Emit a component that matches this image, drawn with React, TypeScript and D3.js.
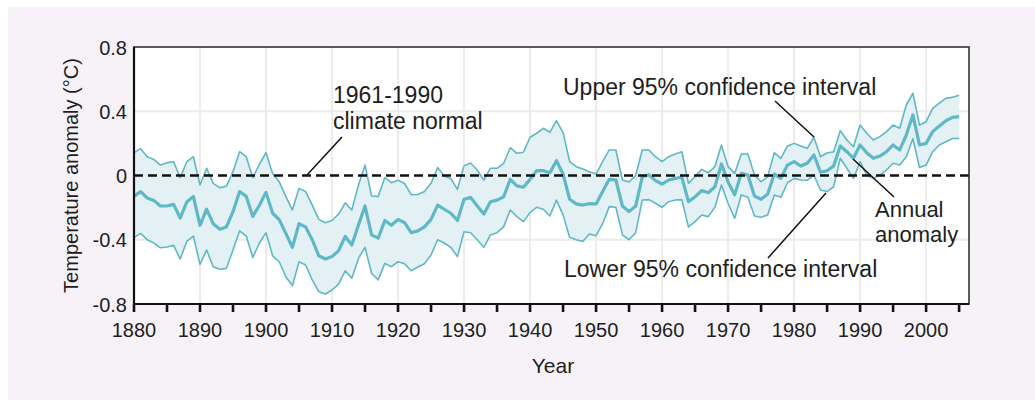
import React from "react";
import * as d3 from "d3";

const startYear = 1880;
const anomaly = [
  -0.13, -0.1, -0.14, -0.155, -0.19, -0.19, -0.18, -0.265, -0.165, -0.13,
  -0.31, -0.21, -0.3, -0.335, -0.32, -0.225, -0.1, -0.13, -0.255, -0.185,
  -0.105, -0.235, -0.275, -0.36, -0.447, -0.3, -0.32, -0.4, -0.5, -0.52,
  -0.505, -0.468, -0.38, -0.433, -0.308, -0.19, -0.37, -0.39, -0.28, -0.31,
  -0.273, -0.294, -0.356, -0.345, -0.32, -0.273, -0.184, -0.21, -0.235, -0.28,
  -0.148, -0.136, -0.19, -0.24, -0.163, -0.153, -0.132, -0.024, -0.065, -0.073,
  -0.024, 0.03, 0.03, 0.017, 0.092, 0.009, -0.148, -0.177, -0.184, -0.175,
  -0.177, -0.1, -0.024, -0.028, -0.19, -0.225, -0.19, -0.01, 0.005, -0.032,
  -0.053, -0.028, -0.018, -0.011, -0.163, -0.132, -0.094, -0.107, -0.07, 0.072,
  -0.04, -0.12, 0.013, 0.003, -0.128, -0.148, -0.115, 0.009, -0.018, 0.065,
  0.086, 0.059, 0.076, 0.128, 0.02, 0.03, 0.06, 0.184, 0.148, 0.107,
  0.19, 0.142, 0.107, 0.121, 0.148, 0.19, 0.159, 0.252, 0.377, 0.19,
  0.2, 0.273, 0.308, 0.341, 0.362, 0.366,
];
const upper95 = [
  0.142, 0.167, 0.117, 0.1, 0.065, 0.08, 0.086, -0.013, 0.086, 0.117,
  -0.059, 0.045, -0.049, -0.076, -0.066, 0.024, 0.148, 0.117, -0.013, 0.07,
  0.142, 0.013, -0.039, -0.13, -0.215, -0.08, -0.1, -0.184, -0.273, -0.294,
  -0.28, -0.24, -0.17, -0.215, -0.06, 0.065, -0.128, -0.13, -0.013, -0.045,
  -0.03, -0.05, -0.12, -0.118, -0.1, -0.049, 0.05, -0.003, -0.02, -0.086,
  0.06, 0.078, 0.034, -0.028, 0.045, 0.045, 0.076, 0.173, 0.138, 0.145,
  0.238, 0.263, 0.294, 0.269, 0.341, 0.267, 0.086, 0.055, 0.04, 0.024,
  0.009, 0.086, 0.159, 0.159, -0.028, -0.04, 0.0, 0.159, 0.159, 0.117,
  0.086, 0.117, 0.134, 0.148, -0.049, -0.007, 0.038, 0.017, 0.055, 0.19,
  0.055, 0.013, 0.134, 0.134, 0.003, -0.039, -0.007, 0.142, 0.107, 0.184,
  0.2, 0.184, 0.169, 0.238, 0.117, 0.14, 0.148, 0.279, 0.221, 0.179,
  0.314, 0.263, 0.221, 0.242, 0.273, 0.314, 0.294, 0.439, 0.512, 0.314,
  0.335, 0.418, 0.45, 0.48, 0.487, 0.5,
];
const lower95 = [
  -0.387, -0.36, -0.4, -0.42, -0.45, -0.445, -0.435, -0.52, -0.41, -0.377,
  -0.553, -0.464, -0.568, -0.584, -0.578, -0.464, -0.344, -0.377, -0.51, -0.42,
  -0.356, -0.5, -0.537, -0.63, -0.686, -0.537, -0.557, -0.65, -0.723, -0.738,
  -0.713, -0.676, -0.593, -0.64, -0.516, -0.447, -0.61, -0.65, -0.547, -0.568,
  -0.537, -0.55, -0.593, -0.57, -0.55, -0.495, -0.4, -0.42, -0.447, -0.505,
  -0.35, -0.356, -0.4, -0.447, -0.37, -0.356, -0.32, -0.215, -0.256, -0.287,
  -0.23, -0.198, -0.21, -0.252, -0.153, -0.245, -0.385, -0.4, -0.41, -0.364,
  -0.375, -0.3, -0.194, -0.198, -0.37, -0.4, -0.356, -0.153, -0.15, -0.173,
  -0.198, -0.163, -0.153, -0.15, -0.32, -0.287, -0.246, -0.256, -0.198, -0.059,
  -0.173, -0.267, -0.121, -0.136, -0.252, -0.26, -0.246, -0.121, -0.136, -0.045,
  -0.018, -0.028, -0.03, 0.003, -0.09, -0.1, -0.07, 0.107, 0.045, -0.018,
  0.086, 0.003, -0.018, 0.003, 0.034, 0.076, 0.065, 0.117, 0.23, 0.05,
  0.065, 0.148, 0.19, 0.21, 0.23, 0.23,
];
const xTickLabels = [1880, 1890, 1900, 1910, 1920, 1930, 1940, 1950, 1960, 1970, 1980, 1990, 2000];
const xMinorTicks = d3.range(1880, 2006, 5);
const yTickValues = [0.8, 0.4, 0, -0.4, -0.8];
const yTickLabels = ["0.8", "0.4", "0", "-0.4", "-0.8"];

const W = 1035;
const H = 400;
const plot = { left: 134, right: 969, top: 47, bottom: 304 };
const FONT = "'Liberation Sans', Arial, Helvetica, sans-serif";
const TEAL = "#5fb8c8";
const FILL = "#e3f1f5";
const TEXT = "#1e1e1e";

export default function App() {
  const x = d3.scaleLinear().domain([1880, 2006.5]).range([plot.left, plot.right]);
  const y = d3.scaleLinear().domain([-0.8, 0.8]).range([plot.bottom, plot.top]);

  const data = anomaly.map((v, i) => ({
    year: startYear + i,
    mean: v,
    hi: upper95[i],
    lo: lower95[i],
  }));

  const area = d3
    .area<any>()
    .x((d) => x(d.year))
    .y0((d) => y(d.lo))
    .y1((d) => y(d.hi));
  const lineMean = d3.line<any>().x((d) => x(d.year)).y((d) => y(d.mean));
  const lineHi = d3.line<any>().x((d) => x(d.year)).y((d) => y(d.hi));
  const lineLo = d3.line<any>().x((d) => x(d.year)).y((d) => y(d.lo));

  const gridX = xTickLabels.filter((t) => t > 1880);
  const gridY = [0.4, -0.4];

  return (
    <svg
      width={W}
      height={H}
      style={{ position: "absolute", left: 0, top: 0 }}
      fontFamily={FONT}
    >
      <rect x={0} y={0} width={W} height={H} fill="#ffffff" />
      <rect x={8} y={7} width={W - 8} height={H - 7} fill="#f6f2f7" />
      <rect
        x={plot.left}
        y={plot.top}
        width={plot.right - plot.left}
        height={plot.bottom - plot.top}
        fill="#ffffff"
      />
      {gridX.map((t) => (
        <line
          key={"gx" + t}
          x1={x(t)}
          x2={x(t)}
          y1={plot.top}
          y2={plot.bottom}
          stroke="#ececec"
          strokeWidth={2}
        />
      ))}
      {gridY.map((t) => (
        <line
          key={"gy" + t}
          x1={plot.left}
          x2={plot.right}
          y1={y(t)}
          y2={y(t)}
          stroke="#ececec"
          strokeWidth={2}
        />
      ))}
      <path d={area(data) || ""} fill={FILL} />
      <path d={lineHi(data) || ""} fill="none" stroke={TEAL} strokeWidth={1.6} strokeLinejoin="round" />
      <path d={lineLo(data) || ""} fill="none" stroke={TEAL} strokeWidth={1.6} strokeLinejoin="round" />
      <path d={lineMean(data) || ""} fill="none" stroke={TEAL} strokeWidth={3.2} strokeLinejoin="round" />
      <line
        x1={plot.left}
        x2={plot.right}
        y1={y(0)}
        y2={y(0)}
        stroke="#111"
        strokeWidth={2.6}
        strokeDasharray="9 5"
      />
      <rect
        x={plot.left}
        y={plot.top}
        width={plot.right - plot.left}
        height={plot.bottom - plot.top}
        fill="none"
        stroke="#333"
        strokeWidth={1.6}
      />
      <line x1={plot.left} x2={plot.left} y1={plot.top} y2={plot.bottom} stroke="#111" strokeWidth={2.2} />
      <line x1={plot.left} x2={plot.right} y1={plot.bottom} y2={plot.bottom} stroke="#111" strokeWidth={2.2} />
      {xMinorTicks.map((t) => (
        <line
          key={"t" + t}
          x1={x(t)}
          x2={x(t)}
          y1={plot.bottom}
          y2={plot.bottom + 8}
          stroke="#111"
          strokeWidth={2.6}
        />
      ))}
      {xTickLabels.map((t) => (
        <text
          key={"xl" + t}
          x={x(t)}
          y={336.5}
          textAnchor="middle"
          fontSize={20}
          fill={TEXT}
        >
          {t}
        </text>
      ))}
      {yTickValues.map((v, i) => (
        <text
          key={"yl" + i}
          x={127}
          y={y(v) + 7.5}
          textAnchor="end"
          fontSize={20}
          fill={TEXT}
        >
          {yTickLabels[i]}
        </text>
      ))}
      <text x={553} y={373} textAnchor="middle" fontSize={21} fill={TEXT}>
        Year
      </text>
      <text
        transform={`translate(78, ${(plot.top + plot.bottom) / 2}) rotate(-90)`}
        textAnchor="middle"
        fontSize={20}
        fill={TEXT}
      >
        Temperature anomaly (°C)
      </text>

      {/* annotations */}
      <text x={333} y={103} fontSize={23} fill={TEXT}>
        1961-1990
      </text>
      <text x={333} y={129} fontSize={23} fill={TEXT}>
        climate normal
      </text>
      <line x1={342} y1={137} x2={307} y2={175} stroke="#111" strokeWidth={1.5} />

      <text x={563} y={95} fontSize={23} fill={TEXT}>
        Upper 95% confidence interval
      </text>
      <line x1={775} y1={101} x2={814} y2={137} stroke="#111" strokeWidth={1.5} />

      <text x={564} y={277} fontSize={23} fill={TEXT}>
        Lower 95% confidence interval
      </text>
      <line x1={768} y1={258} x2={826} y2={193} stroke="#111" strokeWidth={1.5} />

      <text x={875} y={217} fontSize={22} fill={TEXT}>
        Annual
      </text>
      <text x={875} y={242} fontSize={22} fill={TEXT}>
        anomaly
      </text>
      <line x1={853} y1={159} x2={894} y2={197} stroke="#111" strokeWidth={1.5} />
    </svg>
  );
}
